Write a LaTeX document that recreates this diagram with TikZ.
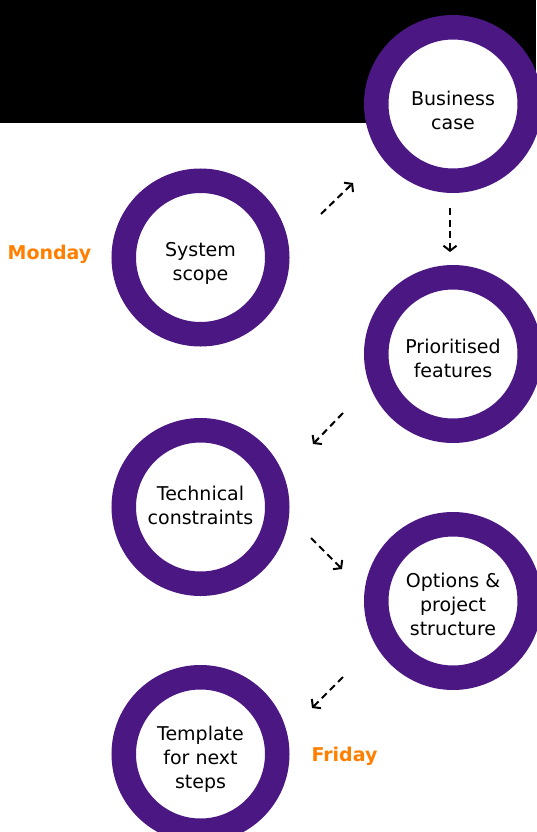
\documentclass[tikz,border=0pt]{standalone}
\usepackage{fontspec}
\setmainfont{DejaVu Sans}
\usetikzlibrary{arrows.meta}
\definecolor{ringpurple}{HTML}{4A1783}
\definecolor{dayorange}{HTML}{FF7F00}
\tikzset{
  ring/.style={circle, draw=ringpurple, line width=24.5pt, fill=white,
    minimum size=153.5pt, inner sep=0pt},
  ringtext/.style={align=center, inner sep=0pt,
    font=\fontsize{19}{24}\selectfont},
  daylabel/.style={text=dayorange, font=\fontsize{19}{24}\selectfont\bfseries},
  flow/.style={dashed, dash pattern=on 7pt off 4.5pt, line width=2pt,
    -{Straight Barb[length=5pt,width=13pt]}}
}
\begin{document}
\begin{tikzpicture}[x=1pt,y=-1pt]
\useasboundingbox (0,0) rectangle (536,832);
\fill[black] (0,0) rectangle (536,123);

\node[ring] (biz)  at (453,104)   {};
\node[ring] (sys)  at (200.5,257.5) {};
\node[ring] (prio) at (453,354)   {};
\node[ring] (tech) at (200.5,507) {};
\node[ring] (opt)  at (453,601)   {};
\node[ring] (tmpl) at (200.5,754) {};

\node[ringtext] (bizt)  at ([yshift=-6pt]biz.center)  {Business\\case};
\node[ringtext] (syst)  at ([yshift=-6pt]sys.center)  {System\\scope};
\node[ringtext] (priot) at ([yshift=-4pt]prio.center) {Prioritised\\features};
\node[ringtext] (techt) at ([yshift=2pt]tech.center)  {Technical\\constraints};
\node[ringtext] (optt)  at ([yshift=-3pt]opt.center)  {Options \&\\project\\structure};
\node[ringtext] (tmplt) at ([yshift=-5pt]tmpl.center) {Template\\for next\\steps};

\node[daylabel] (mon) at (49.5,254) {Monday};
\node[daylabel] (fri) at (344.5,756) {Friday};

\coordinate (a1s) at (321,214); \coordinate (a1e) at (353,183);
\coordinate (a2s) at (450,208); \coordinate (a2e) at (450,252);
\coordinate (a3s) at (343,413); \coordinate (a3e) at (313,444);
\coordinate (a4s) at (311,538); \coordinate (a4e) at (342,569);
\coordinate (a5s) at (343,677); \coordinate (a5e) at (312,708);

\draw[flow] (a1s) -- (a1e);
\draw[flow] (a2s) -- (a2e);
\draw[flow] (a3s) -- (a3e);
\draw[flow] (a4s) -- (a4e);
\draw[flow] (a5s) -- (a5e);
\end{tikzpicture}
\end{document}
